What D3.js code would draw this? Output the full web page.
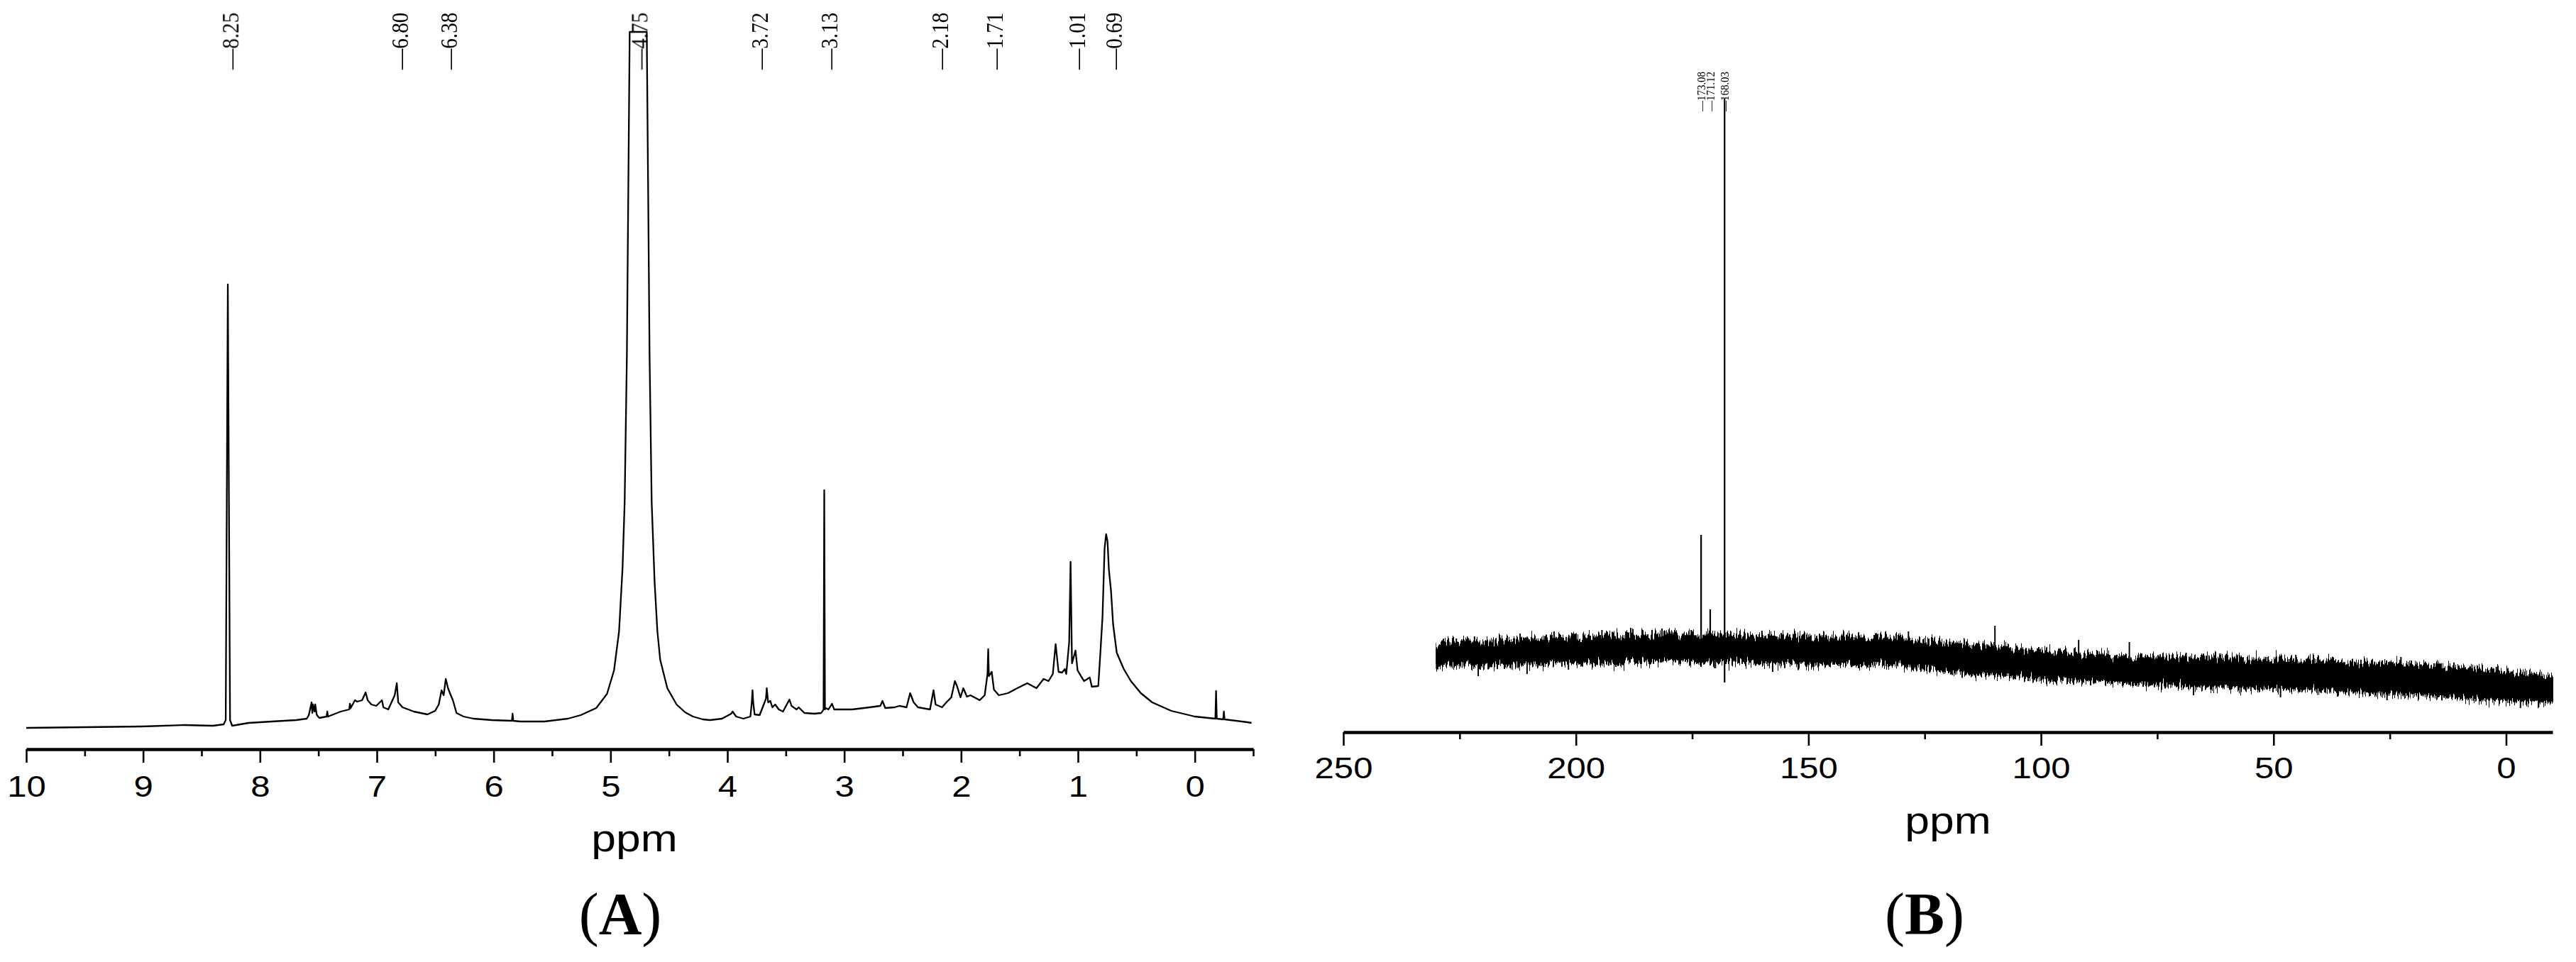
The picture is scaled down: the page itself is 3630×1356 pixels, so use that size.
<!DOCTYPE html>
<html>
<head>
<meta charset="utf-8">
<script src="https://cdn.jsdelivr.net/npm/d3@7/dist/d3.min.js"></script>
<style>
  html, body { margin: 0; padding: 0; background: #ffffff; }
  svg { display: block; }
</style>
</head>
<body>
<svg id="chart" width="3630" height="1356"></svg>
<script>
// ---------------- DATA ----------------
// (A) 1H NMR spectrum: chemical shift (ppm) and intensity (a.u.)
const hPpm = [10.000, 9.496, 9.010, 8.645, 8.402, 8.311, 8.293, 8.275, 8.256, 8.238, 8.098, 7.898, 7.691, 7.600, 7.582, 7.558, 7.552, 7.546, 7.533, 7.527, 7.515, 7.503, 7.491, 7.430, 7.424, 7.418, 7.309, 7.236, 7.230, 7.224, 7.187, 7.169, 7.126, 7.096, 7.078, 7.047, 7.005, 6.956, 6.944, 6.902, 6.847, 6.829, 6.817, 6.780, 6.683, 6.567, 6.501, 6.470, 6.446, 6.428, 6.410, 6.391, 6.367, 6.349, 6.318, 6.258, 6.173, 6.015, 5.844, 5.838, 5.832, 5.772, 5.565, 5.365, 5.255, 5.122, 5.030, 4.970, 4.927, 4.897, 4.879, 4.860, 4.848, 4.836, 4.690, 4.678, 4.666, 4.648, 4.623, 4.599, 4.575, 4.514, 4.435, 4.362, 4.295, 4.210, 4.149, 4.046, 3.967, 3.955, 3.925, 3.864, 3.803, 3.791, 3.785, 3.779, 3.767, 3.724, 3.670, 3.663, 3.651, 3.633, 3.615, 3.591, 3.560, 3.524, 3.469, 3.451, 3.408, 3.390, 3.341, 3.256, 3.196, 3.177, 3.171, 3.165, 3.159, 3.135, 3.105, 3.086, 2.934, 2.831, 2.691, 2.673, 2.649, 2.570, 2.527, 2.467, 2.436, 2.406, 2.369, 2.266, 2.236, 2.218, 2.163, 2.126, 2.084, 2.053, 2.035, 2.005, 1.981, 1.950, 1.920, 1.841, 1.798, 1.774, 1.768, 1.762, 1.738, 1.719, 1.677, 1.598, 1.519, 1.434, 1.355, 1.294, 1.252, 1.215, 1.191, 1.166, 1.136, 1.112, 1.100, 1.075, 1.063, 1.051, 1.021, 1.003, 0.948, 0.899, 0.881, 0.826, 0.808, 0.790, 0.772, 0.759, 0.747, 0.735, 0.717, 0.699, 0.668, 0.608, 0.547, 0.462, 0.365, 0.201, 0.000, -0.176, -0.182, -0.188, -0.243, -0.249, -0.255, -0.450, -0.486];
const hInt = [4, 5, 6, 8, 7, 9, 15, 629, 15, 7, 11, 13, 15, 17, 22, 40, 25, 37, 27, 37, 23, 20, 18, 20, 27, 20, 27, 30, 38, 32, 43, 41, 43, 54, 43, 37, 35, 43, 33, 30, 50, 67, 40, 33, 27, 23, 28, 37, 57, 50, 73, 60, 50, 43, 25, 20, 17, 15, 14, 24, 14, 13, 13, 17, 22, 32, 52, 85, 140, 230, 323, 530, 760, 985, 985, 760, 530, 323, 210, 140, 100, 60, 37, 26, 20, 16, 15, 17, 24, 27, 20, 17, 20, 40, 57, 40, 23, 22, 45, 60, 40, 42, 33, 37, 30, 27, 44, 35, 30, 33, 25, 24, 25, 30, 339, 30, 32, 30, 38, 30, 30, 32, 35, 42, 32, 33, 35, 33, 53, 40, 33, 30, 57, 37, 33, 40, 47, 70, 63, 47, 60, 48, 50, 43, 50, 80, 115, 77, 83, 58, 50, 53, 60, 67, 60, 73, 70, 80, 122, 83, 82, 87, 80, 125, 238, 95, 113, 85, 70, 75, 62, 63, 110, 160, 257, 277, 267, 227, 197, 150, 110, 87, 70, 53, 40, 28, 20, 17, 56, 17, 16, 27, 16, 12, 11];
const hPeakLabels = [8.25, 6.80, 6.38, 4.75, 3.72, 3.13, 2.18, 1.71, 1.01, 0.69];
const hMajorTicks = [10, 9, 8, 7, 6, 5, 4, 3, 2, 1, 0];
const hMinorTicks = [9.5, 8.5, 7.5, 6.5, 5.5, 4.5, 3.5, 2.5, 1.5, 0.5, -0.5];

// (B) 13C NMR spectrum: noise band envelope (ppm, upper / lower intensity)
const cEnvPpm = [230, 225, 220, 215, 210, 205, 200, 195, 190, 185, 180, 175, 170, 165, 160, 155, 150, 145, 140, 135, 130, 125, 120, 115, 110, 105, 100, 95, 90, 85, 80, 75, 70, 65, 60, 55, 50, 45, 40, 35, 30, 25, 20, 15, 10, 5, 0, -5, -10];
const cUpper = [89, 92, 94, 96, 97, 98, 99, 101, 102, 103, 104, 104, 103, 102, 101, 100, 100, 100, 99, 98, 97, 95, 92, 89, 86, 83, 80, 78, 76, 74, 72, 72, 71, 71, 70, 69, 68, 67, 66, 65, 64, 63, 61, 59, 57, 54, 51, 48, 45];
const cLower = [61, 63, 64, 65, 66, 67, 67, 68, 69, 70, 70, 70, 70, 69, 68, 67, 66, 66, 65, 64, 63, 60, 56, 52, 50, 48, 45, 43, 42, 40, 38, 37, 35, 34, 33, 32, 31, 30, 28, 27, 25, 24, 22, 20, 18, 16, 14, 13, 11];
// noise spikes sticking out of the band
const cSpikePpm = [228.8, 225.7, 221.8, 216.4, 212.0, 204.7, 194.4, 188.2, 181.5, 175.2, 160.0, 128.5, 109.9, 91.9, 81.0, 68.8, 45.2, 22.6, 2.1, 221.0, 210.5, 201.6, 191.4, 170.0, 157.7, 67.2, 48.5, 36.2, 25.6, -3.1, -7.0];
const cSpikeInt = [97, 100, 103, 105, 107, 110, 112, 115, 114, 112, 111, 110, 118, 98, 95, 80, 77, 74, 60, 47, 50, 56, 60, 58, 53, 20, 17, 18, 13, 2, 3];
// resolved carbonyl peaks
const cPeakPpm = [173.08, 171.12, 168.03];
const cPeakTop = [246, 141, 861];
const cPeakBase = [60, 62, 38];
const cMajorTicks = [250, 200, 150, 100, 50, 0];
const cMinorTicks = [225, 175, 125, 75, 25];

const panelLetters = ["A", "B"];
const axisTitle = "ppm";

// ---------------- DRAWING ----------------
const svg = d3.select("#chart");
const sansFont = "'Liberation Sans', Arial, sans-serif";
const serifFont = "'Liberation Serif', 'Times New Roman', serif";

svg.append("rect").attr("width", 3630).attr("height", 1356).attr("fill", "#fff");

// texture filters for the noisy 13C band (vertical jitter of the drawn band)
const defs = svg.append("defs");
[["jitA", 3], ["jitB", 11]].forEach(([id, seed]) => {
  const f = defs.append("filter").attr("id", id)
    .attr("filterUnits", "userSpaceOnUse")
    .attr("x", 1980).attr("y", 820).attr("width", 1650).attr("height", 220)
    .attr("color-interpolation-filters", "sRGB");
  f.append("feTurbulence").attr("type", "fractalNoise")
    .attr("baseFrequency", "0.42 0.003").attr("numOctaves", 2).attr("seed", seed).attr("result", "n");
  f.append("feColorMatrix").attr("in", "n").attr("type", "matrix")
    .attr("values", "0 0 0 0 0.5  0 1 0 0 0  0 0 0 0 0.5  0 0 0 0 1").attr("result", "m");
  f.append("feDisplacementMap").attr("in", "SourceGraphic").attr("in2", "m")
    .attr("scale", 40).attr("xChannelSelector", "R").attr("yChannelSelector", "G");
});

// ----- Panel A -----
const xH = d3.scaleLinear().domain([10, -0.5]).range([37, 1766]);
const yH = d3.scaleLinear().domain([0, 990]).range([1030, 40]);
const hData = hPpm.map((p, i) => [p, hInt[i]]);

svg.append("path")
  .datum(hData)
  .attr("fill", "none")
  .attr("stroke", "#000")
  .attr("stroke-width", 2.3)
  .attr("stroke-linejoin", "round")
  .attr("d", d3.line().x(d => xH(d[0])).y(d => yH(d[1])));

function drawAxis(xs, y, major, minor, pad) {
  const gMinor = svg.append("g").attr("transform", `translate(0,${y})`)
    .call(d3.axisBottom(xs).tickValues(minor).tickSize(10).tickSizeOuter(0).tickFormat(""));
  gMinor.select(".domain").remove();
  gMinor.selectAll(".tick line").attr("stroke", "#000").attr("stroke-width", 2.6);

  const g = svg.append("g").attr("transform", `translate(0,${y})`)
    .call(d3.axisBottom(xs).tickValues(major).tickSize(19).tickSizeOuter(0).tickPadding(pad).tickFormat(d3.format("d")));
  g.select(".domain").attr("stroke", "#000").attr("stroke-width", 4.5);
  g.selectAll(".tick line").attr("stroke", "#000").attr("stroke-width", 2.6);
  g.selectAll(".tick text")
    .attr("fill", "#000")
    .attr("font-family", sansFont)
    .attr("font-size", 42)
    .attr("transform", "scale(1.17,1)");
  return g;
}

drawAxis(xH, 1056, hMajorTicks, hMinorTicks, 18);

// peak labels A
const gLabA = svg.append("g").attr("opacity", 0.999);
hPeakLabels.forEach(v => {
  gLabA.append("text")
    .attr("transform", `translate(${xH(v)},98) rotate(-90) scale(0.86,1)`)
    .attr("text-anchor", "start")
    .attr("dominant-baseline", "central")
    .attr("font-family", serifFont)
    .attr("font-size", 34)
    .attr("fill", "#000")
    .text("\u2014" + v.toFixed(2));
});

// axis title A
svg.append("text")
  .attr("transform", "translate(894,1200) scale(1.2,1)")
  .attr("text-anchor", "middle")
  .attr("font-family", sansFont)
  .attr("font-size", 52)
  .attr("fill", "#000")
  .text(axisTitle);

// ----- Panel B -----
const xC = d3.scaleLinear().domain([250, -10]).range([1893, 3597]);
const yC = d3.scaleLinear().domain([0, 1000]).range([1000, 0]);
const envData = cEnvPpm.map((p, i) => ({ p: p, up: cUpper[i], lo: cLower[i] }));
const bandArea = d3.area().curve(d3.curveMonotoneX)
  .x(d => xC(d.p)).y0(d => yC(d.lo)).y1(d => yC(d.up));

["jitA", "jitB"].forEach(id => {
  svg.append("path")
    .datum(envData)
    .attr("fill", "#000")
    .attr("stroke", "#000")
    .attr("stroke-width", 1.5)
    .attr("filter", `url(#${id})`)
    .attr("d", bandArea);
});

// midline of the band, used as foot of each noise spike
const midAt = d3.scaleLinear().domain(cEnvPpm).range(cEnvPpm.map((p, i) => (cUpper[i] + cLower[i]) / 2));
svg.append("g").selectAll("line")
  .data(cSpikePpm.map((p, i) => [p, cSpikeInt[i]]))
  .join("line")
  .attr("x1", d => xC(d[0])).attr("x2", d => xC(d[0]))
  .attr("y1", d => yC(midAt(d[0]))).attr("y2", d => yC(d[1]))
  .attr("stroke", "#000").attr("stroke-width", 2);

svg.append("g").selectAll("line")
  .data(cPeakPpm.map((p, i) => [p, cPeakTop[i], cPeakBase[i]]))
  .join("line")
  .attr("x1", d => xC(d[0])).attr("x2", d => xC(d[0]))
  .attr("y1", d => yC(d[2])).attr("y2", d => yC(d[1]))
  .attr("stroke", "#000").attr("stroke-width", 2.2);

drawAxis(xC, 1032, cMajorTicks, cMinorTicks, 16);

const gLabB = svg.append("g").attr("opacity", 0.999);
cPeakPpm.forEach(v => {
  gLabB.append("text")
    .attr("transform", `translate(${xC(v)},157) rotate(-90) scale(0.88,1)`)
    .attr("text-anchor", "start")
    .attr("dominant-baseline", "central")
    .attr("font-family", serifFont)
    .attr("font-size", 17)
    .attr("fill", "#000")
    .text("\u2014" + v.toFixed(2));
});

svg.append("text")
  .attr("transform", "translate(2745,1175) scale(1.2,1)")
  .attr("text-anchor", "middle")
  .attr("font-family", sansFont)
  .attr("font-size", 52)
  .attr("fill", "#000")
  .text(axisTitle);

// panel letters
[[874, panelLetters[0]], [2712, panelLetters[1]]].forEach(([x, L]) => {
  const t = svg.append("text")
    .attr("x", x).attr("y", 1317)
    .attr("text-anchor", "middle")
    .attr("font-family", serifFont)
    .attr("font-size", 84)
    .attr("fill", "#000");
  t.append("tspan").text("(");
  t.append("tspan").attr("font-weight", "bold").text(L);
  t.append("tspan").text(")");
});
</script>
</body>
</html>
